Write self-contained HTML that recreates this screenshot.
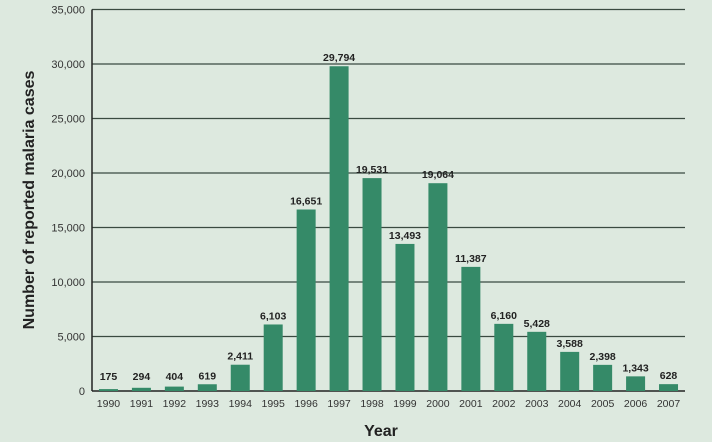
<!DOCTYPE html>
<html><head><meta charset="utf-8"><style>
body{margin:0;background:#dde9df;}
svg{display:block;font-family:"Liberation Sans",sans-serif;}
</style></head><body>
<svg id="chart" width="712" height="442" viewBox="0 0 712 442">
<rect width="712" height="442" fill="#dde9df"/>
<g id="grid"></g><g id="bars"></g><g id="labels"></g>
<text x="34" y="200" transform="rotate(-90 34 200)" text-anchor="middle" font-size="16" font-weight="bold" fill="#222">Number of reported malaria cases</text>
<text x="381" y="436" text-anchor="middle" font-size="16" font-weight="bold" fill="#222">Year</text>
</svg>
<script>
const years=["1990","1991","1992","1993","1994","1995","1996","1997","1998","1999","2000","2001","2002","2003","2004","2005","2006","2007"];
const cases=[175,294,404,619,2411,6103,16651,29794,19531,13493,19064,11387,6160,5428,3588,2398,1343,628];
const yTicks=[0,5000,10000,15000,20000,25000,30000,35000];
const NS="http://www.w3.org/2000/svg";
const x0=92,x1=685,yBase=391,yTop=9.5,yMax=35000;
const band=(x1-x0)/years.length;
function xC(i){return x0+band*(i+0.5);}
function yS(v){return yBase-(v/yMax)*(yBase-yTop);}
function mk(tag,attrs,parent,txt){const e=document.createElementNS(NS,tag);for(const k in attrs)e.setAttribute(k,attrs[k]);if(txt!==undefined)e.textContent=txt;parent.appendChild(e);return e;}
const g=document.getElementById('grid'),b=document.getElementById('bars'),l=document.getElementById('labels');
yTicks.forEach(t=>{
  const y=yS(t);
  if(t>0){const ln=mk('line',{x1:x0,x2:x1,y1:y,y2:y,stroke:'#3a4a40','stroke-width':1.2},g);
  
  }
  const tx=mk('text',{x:x0-7,y:y+4,'text-anchor':'end','font-size':11,fill:'#333'},g,t.toLocaleString('en-US'));
  
  
});
const ya=mk('line',{x1:x0,x2:x0,y1:yTop,y2:yBase,stroke:'#222','stroke-width':1.5},g);


cases.forEach((v,i)=>{
  const cx=xC(i),w=19,y=yS(v);
  const r=mk('rect',{x:cx-w/2,y:y,width:w,height:yBase-y,fill:'#358a68'},b);
  
  
  const vl=mk('text',{x:cx,y:Math.min(y,yBase-6)-5,'text-anchor':'middle','font-size':10.5,'font-weight':'bold',fill:'#222'},l,v.toLocaleString('en-US'));
  
  
  const xl=mk('text',{x:cx,y:407,'text-anchor':'middle','font-size':10.5,fill:'#333'},l,years[i]);
  
  
});
const xa=mk('line',{x1:x0,x2:x1,y1:yBase,y2:yBase,stroke:'#222','stroke-width':1.5},g);


</script>
</body></html>
